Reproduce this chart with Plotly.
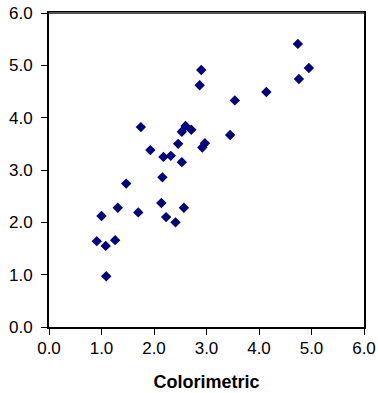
import plotly.graph_objects as go

colorimetric = [2.90, 2.87, 3.54, 1.75, 2.60, 2.71, 2.53, 3.45, 2.46, 2.97, 2.92, 1.93,
                2.18, 2.32, 2.53, 2.16, 1.47, 1.00, 1.31, 1.70, 2.14, 2.23, 2.41, 2.57,
                0.91, 1.08, 1.26, 1.09, 4.74, 4.95, 4.76, 4.14]
other = [4.91, 4.62, 4.33, 3.82, 3.84, 3.77, 3.73, 3.67, 3.50, 3.51, 3.43, 3.38,
         3.25, 3.27, 3.15, 2.86, 2.74, 2.12, 2.28, 2.19, 2.37, 2.10, 2.00, 2.28,
         1.64, 1.55, 1.66, 0.97, 5.41, 4.95, 4.74, 4.49]
tick_vals = [0, 1, 2, 3, 4, 5, 6]
tick_text = ["0.0", "1.0", "2.0", "3.0", "4.0", "5.0", "6.0"]

fig = go.Figure(go.Scatter(
    x=colorimetric, y=other, mode="markers",
    marker=dict(symbol="diamond", size=8, color="#000080", line=dict(width=0)),
))

fig.update_layout(
    width=378, height=393,
    margin=dict(l=49, r=14, t=13, b=66),
    paper_bgcolor="white", plot_bgcolor="white",
    showlegend=False,
    font=dict(family="Liberation Sans, Arial, sans-serif", size=17, color="black"),
)
fig.update_xaxes(
    range=[0, 6], tickvals=tick_vals, ticktext=tick_text, automargin=False,
    ticklabeloverflow="allow", ticklabelstandoff=-1,
    showgrid=False, zeroline=False, showline=True, linecolor="black", linewidth=2,
    mirror=True, ticks="outside", ticklen=6, tickcolor="black", tickwidth=1,
    tickfont=dict(size=17),
    title=dict(text="<b>Colorimetric</b>", font=dict(size=18), standoff=18),
)
fig.update_yaxes(
    range=[0, 6], tickvals=tick_vals, ticktext=tick_text, automargin=False,
    ticklabeloverflow="allow", ticklabelstandoff=5,
    showgrid=False, zeroline=False, showline=True, linecolor="black", linewidth=2,
    mirror=True, ticks="outside", ticklen=6, tickcolor="black", tickwidth=1,
    tickfont=dict(size=17),
)
fig.add_shape(type="line", xref="paper", yref="paper", x0=0, x1=1, y0=1, y1=1,
              line=dict(color="#555555", width=2))

fig.write_html("out.html", config={"displayModeBar": False},
               post_script="document.body.style.margin='0';")
